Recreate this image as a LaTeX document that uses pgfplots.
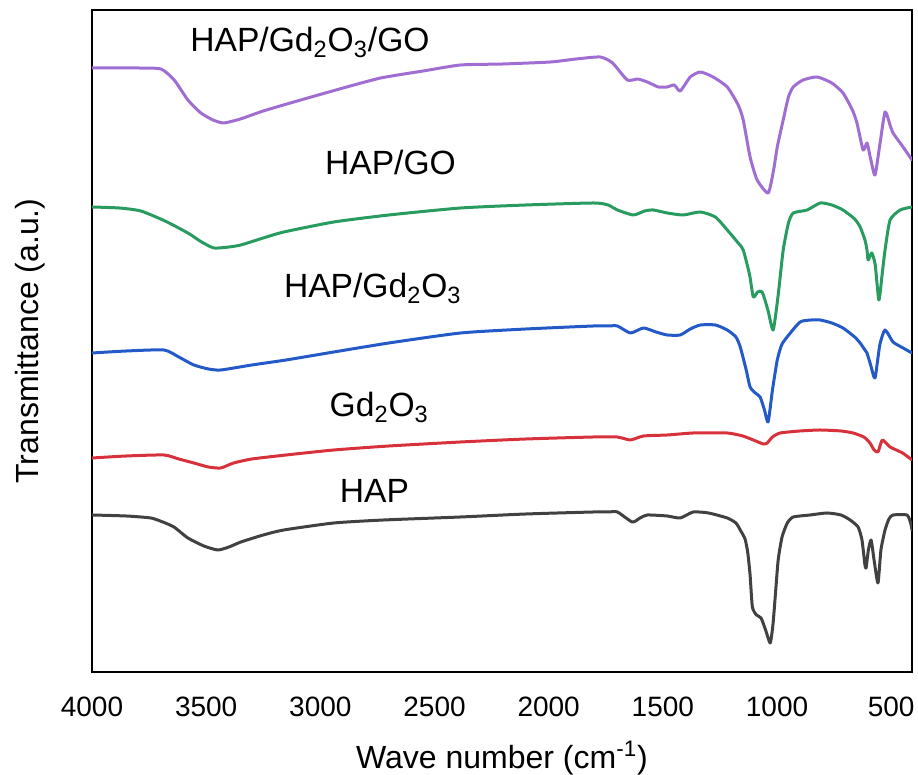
\documentclass[border=0pt]{standalone}
\usepackage{fontspec}
\setmainfont{Liberation Sans}
\usepackage{pgfplots}
\pgfplotsset{compat=1.18}
\definecolor{cpur}{RGB}{160,110,210}
\definecolor{cgrn}{RGB}{40,155,95}
\definecolor{cblu}{RGB}{35,90,200}
\definecolor{cred}{RGB}{215,50,60}
\definecolor{cblk}{RGB}{65,65,65}
\begin{document}
\begin{tikzpicture}
\useasboundingbox (-46pt,-51.5pt) rectangle (413pt,336pt);
\begin{axis}[
  at={(0,0)}, anchor=south west,
  scale only axis, width=410pt, height=331pt,
  x dir=reverse, xmin=409, xmax=4000, ymin=103, ymax=765,
  xtick={4000,3500,3000,2500,2000,1500,1000,500},
  ytick=\empty, major tick length=0pt,
  scaled x ticks=false,
  /pgf/number format/.cd, set thousands separator={}, assume math mode=true, /pgfplots/.cd,
  xticklabel style={font=\fontsize{14}{16}\selectfont, yshift=-9pt},
  axis line style={line width=1pt, black},
  xlabel={Wave number (cm\textsuperscript{-1})},
  ylabel={Transmittance (a.u.)},
  xlabel style={font=\fontsize{16}{18}\selectfont, at={(axis description cs:0.5,-0.13)}, anchor=center},
  ylabel style={font=\fontsize{16}{18}\selectfont, at={(axis description cs:-0.0756,0.5)}, anchor=center},
  every axis plot/.append style={line width=1.5pt, line join=round, line cap=round, smooth, tension=0.35},
  clip=true,
]
% HAP/Gd2O3/GO
\addplot[cpur] coordinates {
(4000,707)(3800,707)(3698,706)(3640,695)(3580,675)(3523,662)(3470,655)(3423,652)(3350,656)(3250,664)(3086,675)(2900,687)(2736,697)(2550,704)(2386,710)(2200,711)(1992,713)(1880,716)(1774,718)(1720,712)
(1656,695)(1610,696)(1568,693)(1520,688)(1481,688)(1450,690)(1424,684)(1380,698)(1336,703)(1280,698)(1218,688)(1170,670)(1148,655)(1118,618)(1087,595)(1039,582)
(1015,605)(999,628)(973,655)(950,678)(929,688)(886,695)(824,698)(760,692)(711,682)(670,665)(650,652)(623,625)(606,632)(590,616)(571,600)(550,630)(527,663)
(505,650)(492,642)(448,628)(409,615)};
% HAP/GO
\addplot[cgrn] coordinates {
(4000,568)(3880,567)(3786,564)(3680,554)(3580,542)(3520,533)(3466,527)(3400,528)(3348,530)(3250,537)(3160,543)(2941,553)(2700,560)(2386,567)(2100,570)(1804,572)(1740,570)(1699,565)
(1629,560)(1580,564)(1542,565)(1480,562)(1411,560)(1336,563)(1270,558)(1218,545)(1170,532)(1148,525)(1120,500)(1104,478)(1085,483)(1065,483)(1040,465)(1017,445)(995,480)(973,525)
(950,552)(929,562)(868,565)(811,572)(760,570)(711,565)(660,556)(636,548)(615,535)(606,525)(601,515)(585,522)(570,510)(554,475)(540,500)(527,525)(505,555)
(461,565)(409,568)};
% HAP/Gd2O3
\addplot[cblu] coordinates {
(4000,422)(3850,424)(3685,425)(3620,418)(3554,410)(3490,406)(3436,405)(3300,410)(3150,415)(2941,423)(2700,432)(2386,442)(2100,446)(1804,449)(1740,449)(1699,449)(1642,442)(1585,447)
(1530,443)(1481,440)(1424,440)(1380,446)(1336,450)(1270,450)(1218,445)(1180,438)(1161,428)(1135,405)(1118,388)(1095,382)(1074,378)(1055,365)(1039,353)(1020,385)(999,415)(980,430)(956,438)
(899,453)(850,455)(811,455)(760,452)(711,447)(660,438)(636,432)(615,425)(606,422)(590,410)(571,397)(550,430)(527,445)(492,433)(448,427)(409,422)};
% Gd2O3
\addplot[cred] coordinates {
(4000,317)(3850,319)(3685,320)(3620,316)(3554,312)(3490,308)(3436,307)(3380,312)(3300,316)(3150,320)(2941,325)(2700,329)(2386,333)(2100,336)(1804,338)(1700,338)(1642,335)(1585,339)(1480,340)(1367,342)
(1218,342)(1150,339)(1104,335)(1060,331)(1043,332)(1020,338)(986,342)(900,344)(811,345)(720,344)(667,342)(620,338)(593,332)(575,325)(558,323)(545,332)(536,335)(505,328)(450,322)(409,315)};
% HAP
\addplot[cblk] coordinates {
(4000,260)(3850,259)(3742,257)(3690,253)(3641,248)(3580,237)(3510,229)(3449,225)(3400,228)(3348,233)(3250,240)(3160,245)(2941,252)(2723,255)(2386,258)(2100,261)
(1804,263)(1740,263)(1699,263)(1634,253)(1600,257)(1568,260)(1481,259)(1424,257)(1367,263)(1300,262)(1218,257)(1180,252)(1161,245)(1140,236)
(1128,222)(1118,200)(1108,168)(1090,160)(1070,157)(1050,145)(1030,132)(1018,150)(1008,178)(995,215)(978,238)(955,252)(929,258)(855,260)(781,262)
(720,260)(680,255)(645,248)(628,235)(615,210)(610,207)(600,225)(588,235)(575,215)(558,192)(545,225)(527,245)(510,256)(492,260)(431,260)(415,252)(409,245)};
\node[anchor=base west, font=\fontsize{16.8}{19}\selectfont] at (axis cs:3600,723) {HAP/Gd\textsubscript{2}O\textsubscript{3}/GO};
\node[anchor=base west, font=\fontsize{16.8}{19}\selectfont] at (axis cs:3010,600) {HAP/GO};
\node[anchor=base west, font=\fontsize{16.8}{19}\selectfont] at (axis cs:3190,477) {HAP/Gd\textsubscript{2}O\textsubscript{3}};
\node[anchor=base west, font=\fontsize{16.8}{19}\selectfont] at (axis cs:2990,358) {Gd\textsubscript{2}O\textsubscript{3}};
\node[anchor=base west, font=\fontsize{16.8}{19}\selectfont] at (axis cs:2945,272) {HAP};
\end{axis}
\end{tikzpicture}
\end{document}
